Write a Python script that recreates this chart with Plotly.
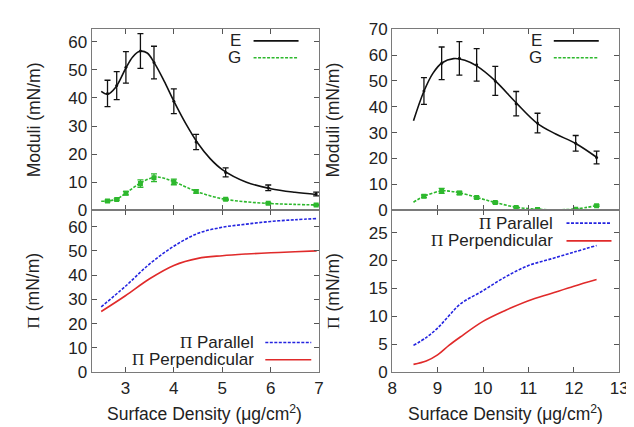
import plotly.graph_objects as go

W, H = 634, 427

# ---------------- data: left (top) moduli ----------------
L_pts_x = [2.63, 2.82, 3.01, 3.31, 3.59, 4.00, 4.46, 5.07, 5.95, 6.94]
L_E = [41.6, 44.4, 50.9, 56.7, 52.6, 38.8, 24.3, 13.5, 8.0, 5.8]
L_E_err = [4.7, 5.0, 5.6, 6.2, 5.8, 4.4, 2.7, 1.6, 1.0, 0.7]
L_G = [3.3, 3.8, 6.1, 9.5, 11.6, 10.1, 6.7, 3.9, 2.5, 1.9]
L_G_err = [0.3, 0.3, 0.6, 1.3, 1.4, 1.0, 0.6, 0.3, 0.2, 0.2]

L_Efit_x = [2.5, 2.63, 2.8, 3.0, 3.15, 3.3, 3.45, 3.6, 3.8, 4.0, 4.25, 4.5, 4.75, 5.0, 5.5, 6.0, 6.5, 6.95]
L_Efit_y = [42.3, 41.3, 43.8, 50.3, 54.6, 56.6, 56.0, 52.4, 46.0, 38.9, 30.8, 23.8, 18.4, 14.5, 10.0, 7.7, 6.4, 5.6]
L_Gfit_x = [2.5, 2.63, 2.82, 3.0, 3.3, 3.6, 3.8, 4.0, 4.25, 4.5, 5.0, 5.5, 6.0, 6.5, 6.95]
L_Gfit_y = [3.2, 3.3, 4.0, 6.0, 9.6, 11.8, 11.4, 10.2, 8.3, 6.5, 4.1, 3.0, 2.4, 2.1, 1.9]

# ---------------- data: left (bottom) surface pressure ----------------
L_pi_x = [2.5, 3.0, 3.5, 4.0, 4.5, 5.0, 5.5, 6.0, 6.5, 6.95]
L_pi_par = [26.9, 35.4, 44.6, 51.9, 57.2, 59.7, 61.0, 62.1, 62.8, 63.3]
L_pi_perp = [25.0, 31.5, 38.5, 44.0, 46.9, 48.0, 48.7, 49.2, 49.6, 50.0]

# ---------------- data: right (top) moduli ----------------
R_pts_x = [8.70, 9.09, 9.48, 9.86, 10.27, 10.73, 11.20, 12.04, 12.50]
R_E = [46.1, 56.8, 58.7, 56.2, 50.0, 41.2, 33.7, 25.9, 20.4]
R_E_err = [5.2, 6.3, 6.5, 6.3, 5.6, 4.7, 3.8, 3.0, 2.5]
R_G = [5.4, 7.5, 6.7, 4.9, 3.0, 1.1, 0.3, 0.4, 1.8]
R_G_err = [0.5, 1.0, 0.6, 0.4, 0.3, 0.2, 0.2, 0.2, 0.3]

R_Efit_x = [8.47, 8.7, 8.9, 9.1, 9.35, 9.6, 9.86, 10.27, 10.73, 11.2, 11.6, 12.04, 12.5]
R_Efit_y = [34.6, 46.0, 53.0, 57.0, 58.6, 58.0, 55.8, 50.0, 41.5, 33.5, 29.5, 25.8, 20.5]
R_Gfit_x = [8.47, 8.7, 9.09, 9.3, 9.48, 9.86, 10.27, 10.73, 11.2, 11.6, 12.04, 12.5]
R_Gfit_y = [3.1, 5.4, 7.5, 7.3, 6.8, 5.0, 3.0, 1.2, 0.4, 0.2, 0.5, 1.8]

# ---------------- data: right (bottom) surface pressure ----------------
R_pi_x = [8.47, 8.75, 9.0, 9.25, 9.5, 10.0, 10.5, 11.0, 11.5, 12.0, 12.5]
R_pi_par = [4.8, 6.2, 7.9, 10.1, 12.2, 14.6, 17.1, 19.1, 20.3, 21.5, 22.7]
R_pi_perp = [1.4, 2.0, 3.1, 4.8, 6.3, 9.1, 11.1, 12.8, 14.1, 15.4, 16.6]

BLACK = "#111111"
GREEN = "#2db82d"
BLUE = "#2424e0"
RED = "#e02a2a"
FONT = "Liberation Sans, Arial, sans-serif"
FS = 17
FT = 17.5

fig = go.Figure()

def add_moduli(xa, ya, px, E, Ee, G, Ge, fx_e, fy_e, fx_g, fy_g):
    fig.add_trace(go.Scatter(x=fx_e, y=fy_e, mode="lines", line=dict(color=BLACK, width=1.6, shape="spline"),
                             xaxis=xa, yaxis=ya, showlegend=False))
    fig.add_trace(go.Scatter(x=fx_g, y=fy_g, mode="lines",
                             line=dict(color=GREEN, width=1.6, dash="3px,1.5px", shape="spline"),
                             xaxis=xa, yaxis=ya, showlegend=False))
    fig.add_trace(go.Scatter(x=px, y=E, mode="markers", marker=dict(color=BLACK, size=3),
                             error_y=dict(type="data", array=Ee, color=BLACK, thickness=1.3, width=3),
                             xaxis=xa, yaxis=ya, showlegend=False))
    fig.add_trace(go.Scatter(x=px, y=G, mode="markers", marker=dict(color=GREEN, size=5, symbol="square"),
                             error_y=dict(type="data", array=Ge, color=GREEN, thickness=1.3, width=3),
                             xaxis=xa, yaxis=ya, showlegend=False))

def add_pi(xa, ya, x, par, perp):
    fig.add_trace(go.Scatter(x=x, y=par, mode="lines",
                             line=dict(color=BLUE, width=1.6, dash="3px,1.5px", shape="spline"),
                             xaxis=xa, yaxis=ya, showlegend=False))
    fig.add_trace(go.Scatter(x=x, y=perp, mode="lines", line=dict(color=RED, width=1.6, shape="spline"),
                             xaxis=xa, yaxis=ya, showlegend=False))

add_moduli("x", "y", L_pts_x, L_E, L_E_err, L_G, L_G_err, L_Efit_x, L_Efit_y, L_Gfit_x, L_Gfit_y)
add_pi("x2", "y2", L_pi_x, L_pi_par, L_pi_perp)
add_moduli("x3", "y3", R_pts_x, R_E, R_E_err, R_G, R_G_err, R_Efit_x, R_Efit_y, R_Gfit_x, R_Gfit_y)
add_pi("x4", "y4", R_pi_x, R_pi_par, R_pi_perp)

def px_x(p):
    return p / W

def px_y(p):
    return 1 - p / H

LX = [px_x(80.3), px_x(313)]
RX = [px_x(387.7), px_x(620)]
TOPY = [px_y(202.3), px_y(12.7)]
BOTY = [px_y(371.7), px_y(202.3)]

ax_common = dict(showline=True, linecolor="#7a7a7a", linewidth=1, mirror="ticks", ticks="inside",
                 ticklen=5, tickcolor="#555555", showgrid=False, zeroline=False,
                 tickfont=dict(family=FONT, size=FS, color="#222222"))

fig.update_layout(
    width=W, height=H, margin=dict(l=0, r=0, t=0, b=0),
    plot_bgcolor="white", paper_bgcolor="white",
    xaxis=dict(domain=LX, range=[2.3, 7], dtick=1, tick0=3, showticklabels=False, anchor="y", **ax_common),
    yaxis=dict(domain=TOPY, range=[0, 64.5], dtick=10, anchor="x", **ax_common),
    xaxis2=dict(domain=LX, range=[2.3, 7], dtick=1, tick0=3, anchor="y2", **ax_common),
    yaxis2=dict(domain=BOTY, range=[0, 66.7], dtick=10, anchor="x2", **ax_common),
    xaxis3=dict(domain=RX, range=[8, 13], dtick=1, showticklabels=False, anchor="y3", **ax_common),
    yaxis3=dict(domain=TOPY, range=[0, 70], dtick=10, anchor="x3", **ax_common),
    xaxis4=dict(domain=RX, range=[8, 13], dtick=1, anchor="y4", **ax_common),
    yaxis4=dict(domain=BOTY, range=[0, 29], dtick=5, anchor="x4", **ax_common),
)

PI = '<span style="font-family:Liberation Serif, Times New Roman, serif">Π</span>'
tfont = dict(family=FONT, size=FT, color="#222222")
ann = []
# axis titles
for xc in (21, 327):
    ann.append(dict(text="Moduli (mN/m)", x=px_x(xc), y=px_y(107.5), textangle=-90))
    ann.append(dict(text=PI + " (mN/m)", x=px_x(xc), y=px_y(287), textangle=-90))
for xc in (196.3, 503.8):
    ann.append(dict(text="Surface Density (μg/cm<sup>2</sup>)", x=px_x(xc), y=px_y(414.5)))
for a in ann:
    a.update(xref="paper", yref="paper", showarrow=False, xanchor="center", yanchor="middle", font=tfont)

# legends: text right-aligned, sample line to the right
legend_items = [
    ("E", 235, 25, 246, 292, BLACK, "solid"),
    ("G", 235, 42.7, 246, 292, GREEN, "3px,1.5px"),
    ("E", 543, 25, 553, 599, BLACK, "solid"),
    ("G", 543, 42.7, 553, 599, GREEN, "3px,1.5px"),
    (PI + " Parallel", 248, 340.7, 258, 305, BLUE, "3px,1.5px"),
    (PI + " Perpendicular", 248, 358.7, 258, 305, RED, "solid"),
    (PI + " Parallel", 554, 215.7, 566, 612, BLUE, "3px,1.5px"),
    (PI + " Perpendicular", 554, 234.3, 566, 612, RED, "solid"),
]
shapes = []
for txt, tx, ty, l0, l1, col, dash in legend_items:
    ann.append(dict(text=txt, x=px_x(tx), y=px_y(ty), xref="paper", yref="paper", showarrow=False,
                    xanchor="right", yanchor="middle", font=dict(family=FONT, size=FS, color="#222222")))
    shapes.append(dict(type="line", xref="paper", yref="paper", x0=px_x(l0), x1=px_x(l1),
                       y0=px_y(ty), y1=px_y(ty), line=dict(color=col, width=1.6, dash=dash)))

fig.update_layout(annotations=ann, shapes=shapes)
fig.write_html("out.html")
